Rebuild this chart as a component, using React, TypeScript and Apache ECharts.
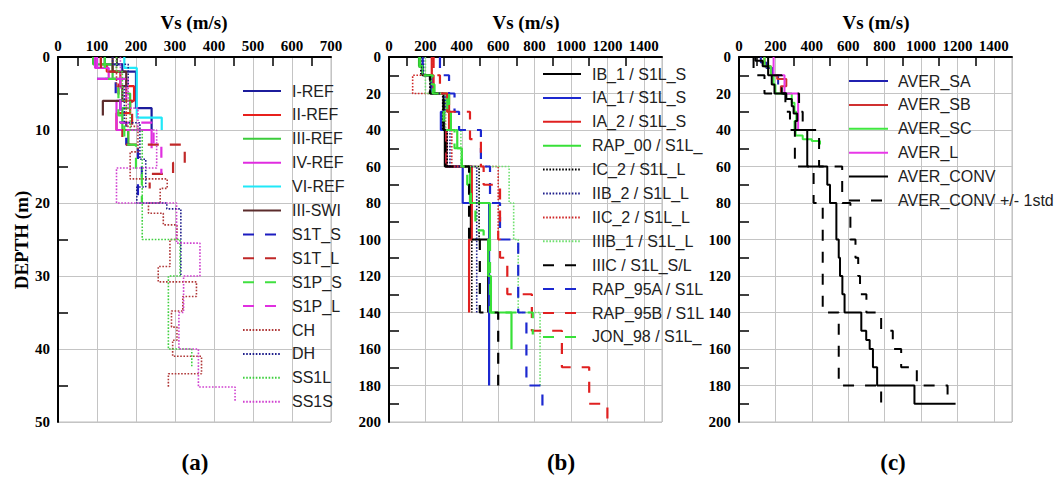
import React, { useEffect, useRef } from "react";
import * as echarts from "echarts";

// ---------- Panel (a): depth breaks (m) and Vs (m/s) per layer ----------
const I_REF_D = [0, 1, 2, 7, 10];
const I_REF_V = [120, 165, 200, 240];
const II_REF_D = [0, 1, 2, 4, 6, 7.7, 10, 12];
const II_REF_V = [110, 125, 160, 195, 185, 150, 180];
const III_REF_D = [0, 1, 3, 5, 7, 10, 12];
const III_REF_V = [90, 140, 175, 185, 165, 180];
const IV_REF_D = [0, 1.5, 3, 6, 10, 12.5];
const IV_REF_V = [95, 130, 175, 150, 240];
const VI_REF_D = [0, 1.5, 8.3, 10];
const VI_REF_V = [170, 202, 266];
const III_SWI_D = [0, 2, 4, 6, 8];
const III_SWI_V = [140, 175, 165, 115];
const S1T_S_D = [0, 3, 5, 9, 12, 14, 17, 20];
const S1T_S_V = [100, 148, 160, 175, 205, 215, 205];
const S1T_L_D = [0, 2, 6, 10, 12, 14.5, 16, 18];
const S1T_L_V = [110, 155, 190, 165, 325, 295, 235];
const S1P_S_D = [0, 3, 8, 12, 16, 20];
const S1P_S_V = [120, 155, 170, 200, 215];
const S1P_L_D = [0, 3, 9, 12, 16];
const S1P_L_V = [100, 160, 245, 265];
const CH_D = [0, 4, 9.5, 13, 16.7, 18, 20, 21.4, 23, 25, 28.7, 30.8, 32.8, 34.8, 37, 38.8, 41, 43.4, 45.2];
const CH_V = [150, 175, 205, 185, 280, 262, 232, 270, 305, 287, 257, 355, 320, 291, 305, 294, 368, 283];
const DH_D = [0, 1, 4, 9, 14, 17.8, 20, 20.8, 30];
const DH_V = [140, 180, 170, 210, 225, 202, 279, 315];
const SS1L_D = [0, 2, 6, 10, 25, 30, 40, 42.4];
const SS1L_V = [150, 165, 185, 216, 313, 283, 343];
const SS1S_D = [0, 3, 7, 10, 15.2, 20, 25.5, 30, 35, 40, 45.2, 47.3];
const SS1S_V = [160, 180, 205, 253, 150, 304, 364, 322, 310, 360, 454];

// ---------- Panel (b) ----------
const IB_1_D = [0, 5, 10, 20, 40, 60, 100, 140];
const IB_1_V = [170, 185, 230, 300, 307, 450, 545];
const IA_1_D = [0, 10, 20, 30, 40, 60, 80, 180];
const IA_1_V = [185, 235, 310, 285, 315, 405, 550];
const IA_2_D = [0, 10, 20, 40, 60, 100, 140];
const IA_2_V = [235, 245, 330, 315, 455, 440];
const RAP_00_D = [0, 5, 10, 15, 20, 30, 40, 50, 60, 80, 100, 120, 140, 160];
const RAP_00_V = [165, 185, 230, 250, 320, 340, 375, 400, 445, 554, 545, 560, 673];
const IC_2_D = [0, 10, 20, 40, 60, 100, 140];
const IC_2_V = [175, 225, 295, 320, 495, 455];
const IIB_2_D = [0, 10, 20, 40, 60, 140];
const IIB_2_V = [190, 230, 305, 335, 482];
const IIC_2_D = [0, 10, 20, 40, 60, 100];
const IIC_2_V = [235, 130, 310, 345, 600];
const IIIB_1_D = [0, 20, 40, 60, 80, 100, 140, 180];
const IIIB_1_V = [200, 310, 395, 660, 685, 710, 830];
const IIIC_D = [0, 10, 20, 40, 60, 100, 140, 180];
const IIIC_V = [170, 225, 300, 310, 440, 499, 600];
const RAP_95A_D = [0, 10, 20, 30, 40, 60, 80, 100, 140, 180, 195];
const RAP_95A_V = [280, 330, 360, 385, 505, 555, 610, 710, 755, 843];
const RAP_95B_D = [0, 10, 20, 30, 45, 60, 70, 90, 100, 110, 130, 150, 170, 190, 200];
const RAP_95B_V = [245, 280, 320, 445, 505, 520, 610, 600, 610, 650, 785, 950, 1100, 1200];
const JON_98_D = [0, 10, 20, 30, 40, 50, 60, 70, 80, 95, 100, 140, 152];
const JON_98_V = [170, 240, 330, 300, 360, 400, 430, 450, 475, 520, 555, 790];

// ---------- Panel (c) ----------
const AVER_SA_D = [0, 3, 6, 10, 15];
const AVER_SA_V = [120, 150, 185, 215];
const AVER_SB_D = [0, 5, 10, 12, 16, 20];
const AVER_SB_V = [140, 175, 210, 260, 230];
const AVER_SC_D = [0, 5, 10, 15, 20, 25, 30, 35, 40, 43, 45, 46, 48];
const AVER_SC_V = [140, 175, 190, 200, 290, 305, 315, 305, 311, 350, 400, 445];
const AVER_L_D = [0, 10, 20, 40];
const AVER_L_V = [190, 250, 325];
const AVER_CONV_D = [0, 2, 5, 10, 15, 20, 23, 27, 31, 35, 40, 60, 70, 80, 100, 110, 120, 130, 140, 150, 155, 160, 170, 180, 190, 190];
const AVER_CONV_V = [90, 130, 160, 180, 195, 260, 290, 300, 320, 310, 375, 485, 500, 535, 548, 555, 568, 580, 672, 699, 718, 736, 759, 964, 1190];
const CONV_MINUS_D = [0, 10, 20, 30, 40, 60, 80, 140, 180, 190];
const CONV_MINUS_V = [80, 140, 255, 280, 307, 410, 460, 548, 781];
const CONV_PLUS_D = [0, 10, 20, 30, 40, 60, 80, 100, 110, 120, 130, 140, 150, 160, 170, 180, 190];
const CONV_PLUS_V = [160, 235, 330, 350, 440, 567, 612, 640, 655, 665, 700, 781, 845, 891, 977, 1146];

// tick label values
const X_TICKS_A = [0, 100, 200, 300, 400, 500, 600, 700];
const X_MAX_BC = 1500;
const Y_MAX_A = 50;
const Y_MAX_BC = 200;

function steps(d: number[], v: number[]) {
  const pts: number[][] = [];
  for (let i = 0; i < v.length; i++) {
    pts.push([v[i], d[i]]);
    pts.push([v[i], d[i + 1]]);
  }
  return pts;
}

const SOLID = "solid";
const DASH = [11, 11];
const DOT = [1.6, 1.6];

type S = [string, number[], number[], string, any, number, number];
const SERIES: S[] = [
  ["I-REF", I_REF_D, I_REF_V, "#1c1c9c", SOLID, 2.2, 0],
  ["II-REF", II_REF_D, II_REF_V, "#e8201c", SOLID, 2.2, 0],
  ["III-REF", III_REF_D, III_REF_V, "#3ccc3c", SOLID, 2.2, 0],
  ["IV-REF", IV_REF_D, IV_REF_V, "#e02ce0", SOLID, 2.2, 0],
  ["VI-REF", VI_REF_D, VI_REF_V, "#20e8f8", SOLID, 2.2, 0],
  ["III-SWI", III_SWI_D, III_SWI_V, "#5c2c2c", SOLID, 2.2, 0],
  ["S1T_S", S1T_S_D, S1T_S_V, "#1c1cc0", DASH, 2.2, 0],
  ["S1T_L", S1T_L_D, S1T_L_V, "#c02828", DASH, 2.2, 0],
  ["S1P_S", S1P_S_D, S1P_S_V, "#40e040", DASH, 2.2, 0],
  ["S1P_L", S1P_L_D, S1P_L_V, "#e030e0", DASH, 2.2, 0],
  ["CH", CH_D, CH_V, "#b03838", DOT, 1.6, 0],
  ["DH", DH_D, DH_V, "#20208c", DOT, 1.6, 0],
  ["SS1L", SS1L_D, SS1L_V, "#40d040", DOT, 1.6, 0],
  ["SS1S", SS1S_D, SS1S_V, "#d040d0", DOT, 1.6, 0],

  ["IB_1 / S1L_S", IB_1_D, IB_1_V, "#000000", SOLID, 2.2, 1],
  ["IA_1 / S1L_S", IA_1_D, IA_1_V, "#1c28d0", SOLID, 2.2, 1],
  ["IA_2 / S1L_S", IA_2_D, IA_2_V, "#e02020", SOLID, 2.2, 1],
  ["RAP_00 / S1L_S", RAP_00_D, RAP_00_V, "#38e038", SOLID, 2.2, 1],
  ["IC_2 / S1L_L", IC_2_D, IC_2_V, "#000000", DOT, 1.6, 1],
  ["IIB_2 / S1L_L", IIB_2_D, IIB_2_V, "#20208c", DOT, 1.6, 1],
  ["IIC_2 / S1L_L", IIC_2_D, IIC_2_V, "#d02828", DOT, 1.6, 1],
  ["IIIB_1 / S1L_L", IIIB_1_D, IIIB_1_V, "#70e070", DOT, 1.6, 1],
  ["IIIC / S1L_S/L", IIIC_D, IIIC_V, "#000000", DASH, 2.2, 1],
  ["RAP_95A / S1L_L", RAP_95A_D, RAP_95A_V, "#1c28d0", DASH, 2.2, 1],
  ["RAP_95B / S1L_L", RAP_95B_D, RAP_95B_V, "#e02020", DASH, 2.2, 1],
  ["JON_98 / S1L_S/L", JON_98_D, JON_98_V, "#38e038", DASH, 2.2, 1],

  ["AVER_SA", AVER_SA_D, AVER_SA_V, "#2020b0", SOLID, 2, 2],
  ["AVER_SB", AVER_SB_D, AVER_SB_V, "#d03030", SOLID, 2, 2],
  ["AVER_SC", AVER_SC_D, AVER_SC_V, "#40e840", SOLID, 2, 2],
  ["AVER_L", AVER_L_D, AVER_L_V, "#e838e8", SOLID, 2, 2],
  ["AVER_CONV", AVER_CONV_D, AVER_CONV_V, "#000000", SOLID, 2, 2],
  ["AVER_CONV +/- 1std", CONV_MINUS_D, CONV_MINUS_V, "#000000", DASH, 2, 2],
  ["AVER_CONV +/- 1std", CONV_PLUS_D, CONV_PLUS_V, "#000000", DASH, 2, 2],
];

const SERIF = "'Liberation Serif', 'Times New Roman', serif";
const SANS = "'Liberation Sans', Arial, sans-serif";

const GRID_LEFTS = [58, 389, 739];

function xAxis(gi: number, max: number, interval: number) {
  return {
    type: "value",
    gridIndex: gi,
    position: "top",
    min: 0,
    max,
    interval,
    axisLine: { show: true, onZero: false, lineStyle: { color: "#000", width: 2 } },
    axisTick: { show: false, inside: true },
    minorTick: { show: true, splitNumber: 2, length: 9, lineStyle: { color: "#000", width: 1.5 } },
    axisLabel: {
      fontFamily: SERIF,
      fontWeight: "bold",
      fontSize: 15,
      color: "#000",
      margin: 4,
      formatter: (v: number) => (v > 1400 ? "" : String(v)),
    },
    splitLine: { show: true, lineStyle: { color: "#c4c4c4", width: 1 } },
  };
}

function yAxis(gi: number, max: number, interval: number) {
  return {
    type: "value",
    gridIndex: gi,
    inverse: true,
    min: 0,
    max,
    interval,
    axisLine: { show: true, onZero: false, lineStyle: { color: "#000", width: 2 } },
    axisTick: { show: false, inside: true },
    minorTick: { show: true, splitNumber: 2, length: 10, lineStyle: { color: "#000", width: 1.5 } },
    axisLabel: { fontFamily: SERIF, fontWeight: "bold", fontSize: 15, color: "#000", margin: 8 },
    splitLine: { show: true, lineStyle: { color: "#c4c4c4", width: 1 } },
  };
}

function legend(panel: number, left: number, top: number, itemWidth: number, padLeft: number, width?: number) {
  const names: string[] = [];
  SERIES.forEach((s) => {
    if (s[6] === panel && names.indexOf(s[0]) < 0) names.push(s[0]);
  });
  const ts: any = { fontFamily: SANS, fontSize: 16, color: "#222", padding: [0, 0, 0, padLeft] };
  if (width) {
    ts.width = width;
    ts.overflow = "truncate";
    ts.ellipsis = "";
  }
  return {
    orient: "vertical",
    left,
    top,
    padding: 0,
    itemWidth,
    itemHeight: 14,
    itemGap: 7.9,
    selectedMode: false,
    itemStyle: { opacity: 0 },
    data: names,
    textStyle: ts,
  };
}

export default function App() {
  const ref = useRef<HTMLDivElement>(null);
  useEffect(() => {
    const chart = echarts.init(ref.current!, null, { renderer: "svg" });
    const titleFont = `bold 19px ${SERIF}`;
    const labelFont = `bold 23px ${SERIF}`;
    const option: any = {
      animation: false,
      backgroundColor: "#fff",
      grid: GRID_LEFTS.map((l) => ({
        left: l,
        top: 57,
        width: 273,
        height: 365,
        show: true,
        borderColor: "#bdbdbd",
        borderWidth: 1,
        backgroundColor: "transparent",
      })),
      xAxis: [
        xAxis(0, X_TICKS_A[X_TICKS_A.length - 1], X_TICKS_A[1] - X_TICKS_A[0]),
        xAxis(1, X_MAX_BC, 200),
        xAxis(2, X_MAX_BC, 200),
      ],
      yAxis: [yAxis(0, Y_MAX_A, 10), yAxis(1, Y_MAX_BC, 20), yAxis(2, Y_MAX_BC, 20)],
      legend: [legend(0, 242, 83, 38, 6), legend(1, 542, 66, 38, 6, 121), legend(2, 848, 73, 39, 5)],
      series: SERIES.map((s) => ({
        type: "line",
        name: s[0],
        xAxisIndex: s[6],
        yAxisIndex: s[6],
        data: steps(s[1], s[2]),
        symbol: "none",
        silent: true,
        lineStyle: { color: s[3], width: s[5], type: s[4] },
        itemStyle: { color: s[3] },
      })),
      graphic: [
        ...[194, 526, 876].map((x) => ({
          type: "text",
          x,
          y: 22,
          style: { text: "Vs (m/s)", font: titleFont, fill: "#000", textAlign: "center", textVerticalAlign: "middle" },
        })),
        ...[
          ["(a)", 195],
          ["(b)", 561],
          ["(c)", 893],
        ].map(([t, x]) => ({
          type: "text",
          x: x as number,
          y: 462,
          style: { text: t as string, font: labelFont, fill: "#000", textAlign: "center", textVerticalAlign: "middle" },
        })),
        {
          type: "text",
          x: 21,
          y: 240,
          rotation: Math.PI / 2,
          style: { text: "DEPTH (m)", font: titleFont, fill: "#000", textAlign: "center", textVerticalAlign: "middle" },
        },
      ],
    };
    chart.setOption(option);
    return () => chart.dispose();
  }, []);
  return <div ref={ref} style={{ position: "absolute", left: 0, top: 0, width: 1058, height: 477 }} />;
}
